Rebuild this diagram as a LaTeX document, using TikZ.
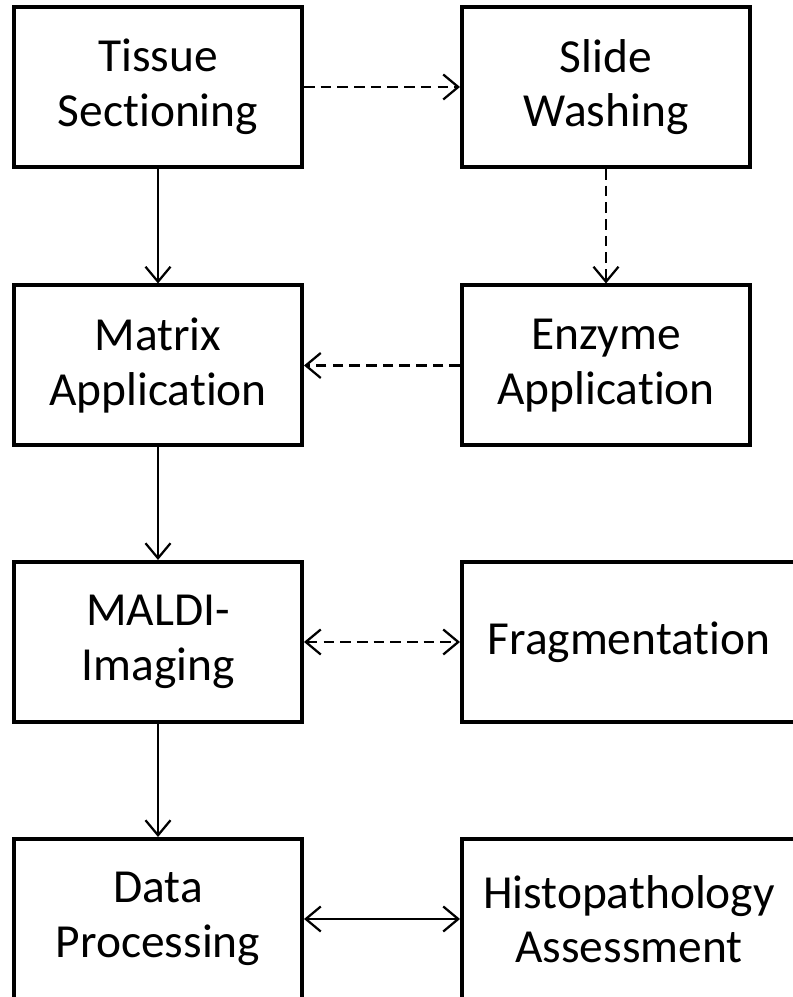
\documentclass[tikz,border=0pt]{standalone}
\usepackage{fontspec}
\setmainfont{Carlito}[Ligatures={NoCommon}]
\usetikzlibrary{arrows.meta}
\begin{document}
\begin{tikzpicture}[
  stepbox/.style={draw=black,line width=0.08cm,minimum height=3.2cm,align=center,
    font=\fontsize{27}{31}\selectfont},
  link/.style={line width=0.045cm,{Straight Barb[length=0.3cm,width=0.5cm]}-{Straight Barb[length=0.3cm,width=0.5cm]}},
  flow/.style={line width=0.045cm,-{Straight Barb[length=0.3cm,width=0.5cm]}},
  opt/.style={dash pattern=on 6pt off 3.5pt}]
\useasboundingbox (0,0) rectangle (15.84,19.94);
% the boxes of the main line
\node[stepbox,minimum width=5.76cm] (tissue) at (3.16,18.2) {Tissue\\Sectioning};
\node[stepbox,minimum width=5.76cm] (matrix) at (3.16,12.63) {Matrix\\Application};
\node[stepbox,minimum width=5.76cm] (maldi) at (3.16,7.1) {MALDI-\\Imaging};
\node[stepbox,minimum width=5.76cm] (data) at (3.16,1.56) {Data\\Processing};
% the boxes on the side
\node[stepbox,minimum width=5.76cm] (slide) at (12.12,18.2) {Slide\\Washing};
\node[stepbox,minimum width=5.76cm] (enzyme) at (12.12,12.63) {Enzyme\\Application};
\node[stepbox,minimum width=6.68cm] (frag) at (12.58,7.1) {Fragmentation};
\node[stepbox,minimum width=6.68cm] (histo) at (12.58,1.56) {Histopathology\\Assessment};
% the arrows
\draw[flow] (tissue) -- (matrix);
\draw[flow] (matrix) -- (maldi);
\draw[flow] (maldi) -- (data);
\draw[flow,opt] (tissue) -- (slide);
\draw[flow,opt] (slide) -- (enzyme);
\draw[flow,opt] (enzyme) -- (matrix);
\draw[link,opt] (maldi) -- (frag);
\draw[link] (data) -- (histo);
\end{tikzpicture}
\end{document}
